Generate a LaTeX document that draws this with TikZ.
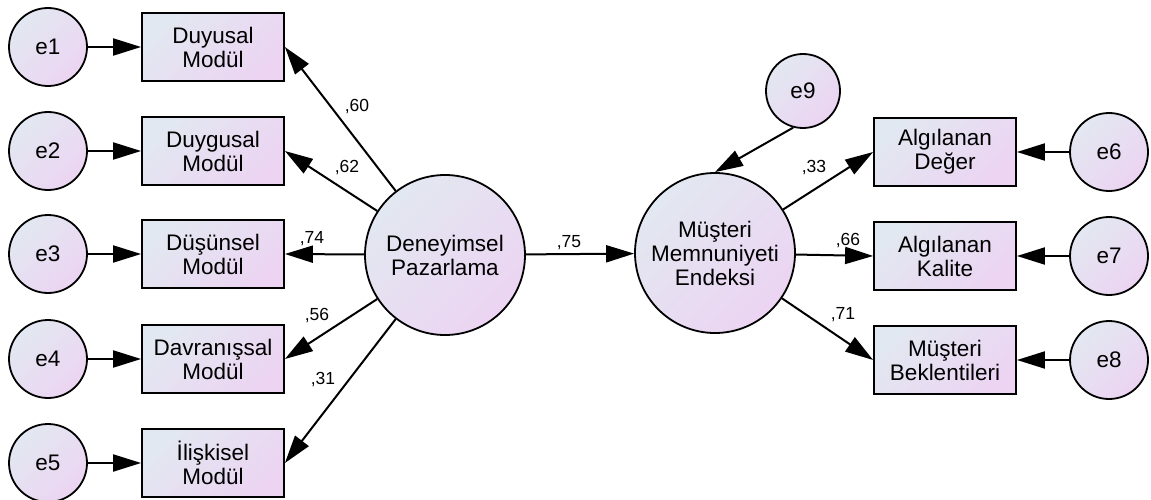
\documentclass[tikz,border=0pt]{standalone}
\usepackage{fontspec}
\setmainfont{Liberation Sans}
\usetikzlibrary{arrows.meta}
\definecolor{ca}{RGB}{226,232,241}
\definecolor{cb}{RGB}{236,212,242}
\tikzset{
  grad/.style={top color=ca, bottom color=cb, shading angle=45, draw=black, line width=1.8pt},
  errc/.style={grad, circle, minimum size=78pt, inner sep=0pt, font=\fontsize{22.5}{24}\selectfont},
  latc/.style={grad, circle, minimum size=160pt, inner sep=0pt, align=center, font=\fontsize{22.5}{24}\selectfont},
  obsbox/.style={grad, rectangle, minimum width=142pt, minimum height=68pt, inner sep=0pt, align=center, font=\fontsize{22.5}{24}\selectfont},
  arr/.style={line width=2pt, -{Triangle[length=28pt,width=17pt]}},
  lbl/.style={font=\fontsize{17.5}{19}\selectfont, inner sep=0pt}
}
\begin{document}
\begin{tikzpicture}[x=1pt,y=-1pt]
\useasboundingbox (0,0) rectangle (1151,500);
% error circles left
\node[errc] (e1) at (48,47) {e1};
\node[errc] (e2) at (48,151) {e2};
\node[errc] (e3) at (48,254) {e3};
\node[errc] (e4) at (48,359) {e4};
\node[errc] (e5) at (48,463) {e5};
% boxes left
\node[obsbox] (b1) at (213,47) {Duyusal\\Modül};
\node[obsbox] (b2) at (213,151) {Duygusal\\Modül};
\node[obsbox] (b3) at (213,254) {Düşünsel\\Modül};
\node[obsbox] (b4) at (213,359) {Davranışsal\\Modül};
\node[obsbox] (b5) at (213,463) {İlişkisel\\Modül};
% latent
\node[latc] (dp) at (445,255) {Deneyimsel\\Pazarlama};
\node[latc] (mm) at (715,253) {Müşteri\\Memnuniyeti\\Endeksi};
\node[errc, minimum size=74pt] (e9) at (803,91) {e9};
% boxes right
\node[obsbox] (r1) at (945,152) {Algılanan\\Değer};
\node[obsbox] (r2) at (945,256) {Algılanan\\Kalite};
\node[obsbox] (r3) at (945,360) {Müşteri\\Beklentileri};
\node[errc] (e6) at (1109,152) {e6};
\node[errc] (e7) at (1109,256) {e7};
\node[errc] (e8) at (1109,360) {e8};
% arrows
\foreach \i in {1,...,5} {\draw[arr] (e\i) -- (b\i.west);}
\foreach \i in {1,...,5} {\draw[arr] (dp) -- (b\i.east);}
\draw[arr] (dp) -- (mm);
\draw[arr] (e9.255) -- (mm.north);
\draw[arr] (mm) -- (r1.west);
\draw[arr] (mm) -- (r2.west);
\draw[arr] (mm) -- (r3.west);
\draw[arr] (e6) -- (r1.east);
\draw[arr] (e7) -- (r2.east);
\draw[arr] (e8) -- (r3.east);
% labels
\node[lbl] (l1) at (357,107) {,60};
\node[lbl] (l2) at (347,168) {,62};
\node[lbl] (l3) at (312,239) {,74};
\node[lbl] (l4) at (317,316) {,56};
\node[lbl] (l5) at (323,380) {,31};
\node[lbl] (l6) at (569,243) {,75};
\node[lbl] (l7) at (814,168) {,33};
\node[lbl] (l8) at (848,241) {,66};
\node[lbl] (l9) at (843,315) {,71};
\end{tikzpicture}
\end{document}
